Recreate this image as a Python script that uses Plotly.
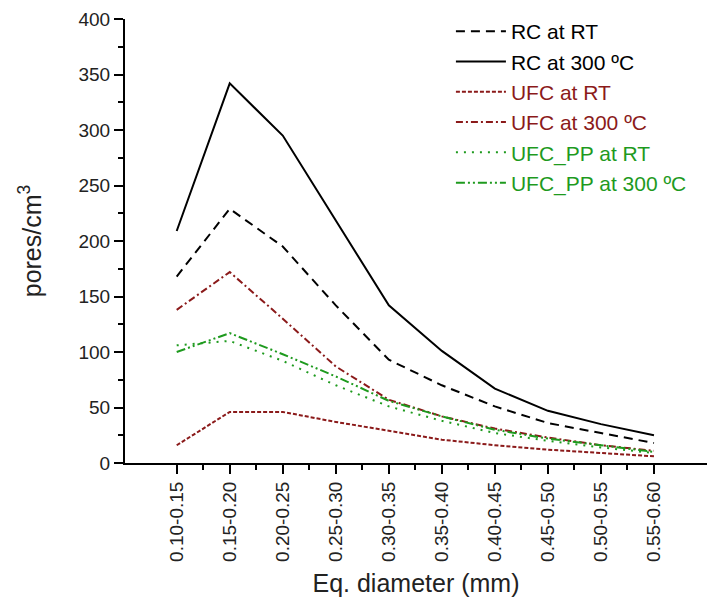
import plotly.graph_objects as go

categories = ["0.10-0.15", "0.15-0.20", "0.20-0.25", "0.25-0.30", "0.30-0.35",
              "0.35-0.40", "0.40-0.45", "0.45-0.50", "0.50-0.55", "0.55-0.60"]
rc_rt = [168, 229, 195, 142, 93, 70, 51, 36, 27, 18]
rc_300 = [209, 342, 295, 218, 142, 101, 67, 47, 35, 25]
ufc_rt = [16, 46, 46, 37, 29, 21, 16, 12, 9, 6]
ufc_300 = [138, 172, 130, 87, 57, 42, 31, 23, 16, 11]
ufcpp_rt = [106, 110, 92, 70, 51, 38, 27, 20, 14, 9]
ufcpp_300 = [100, 117, 98, 78, 56, 42, 30, 22, 16, 10]

BLACK = "#000000"
RED = "#8b1a1a"
GREEN = "#1e9a1e"

series = [
    ("RC at RT", rc_rt, BLACK, "9px,6px"),
    ("RC at 300 ºC", rc_300, BLACK, "solid"),
    ("UFC at RT", ufc_rt, RED, "4px,2px"),
    ("UFC at 300 ºC", ufc_300, RED, "7px,3px,2px,3px"),
    ("UFC_PP at RT", ufcpp_rt, GREEN, "2px,6px"),
    ("UFC_PP at 300 ºC", ufcpp_300, GREEN, "9px,3px,2px,3px,2px,3px"),
]

xs = list(range(len(categories)))
fig = go.Figure()
for name, vals, color, dash in series:
    fig.add_trace(go.Scatter(
        x=xs, y=vals, mode="lines",
        name=f"<span style='color:{color}'>{name}</span>",
        line=dict(color=color, width=2, dash=dash),
    ))

FONT = "Liberation Sans, Arial, sans-serif"
fig.update_layout(
    width=710, height=605,
    margin=dict(l=125, r=3, t=19, b=142),
    paper_bgcolor="white", plot_bgcolor="white",
    font=dict(family=FONT, size=19, color="#222"),
    showlegend=True,
    legend=dict(x=0.56, y=1.018, xanchor="left", yanchor="top",
                font=dict(size=21, family=FONT), bgcolor="rgba(0,0,0,0)",
                tracegroupgap=0, itemwidth=50),
    xaxis=dict(
        range=[-0.975, 10.0], tickmode="array", tickvals=xs, ticktext=categories,
        tickangle=-90, showgrid=False, zeroline=False,
        showline=True, linecolor="black", linewidth=2,
        ticks="outside", ticklen=9, tickwidth=2, tickcolor="black",
        tickfont=dict(size=19, color="#222"),
        minor=dict(tickvals=[i + 0.5 for i in range(len(categories) - 1)],
                   ticks="outside", ticklen=5, tickwidth=2, tickcolor="black"),
        title=dict(text="Eq. diameter (mm)", font=dict(size=25, color="#222"), standoff=14),
    ),
    yaxis=dict(
        range=[0, 400], tickmode="linear", tick0=0, dtick=50,
        showgrid=False, zeroline=False,
        showline=True, linecolor="black", linewidth=2,
        ticks="outside", ticklen=9, tickwidth=2, tickcolor="black",
        tickfont=dict(size=19, color="#222"),
        minor=dict(dtick=25, ticks="outside", ticklen=5, tickwidth=2, tickcolor="black"),
        title=dict(text="pores/cm<sup>3</sup>", font=dict(size=25, color="#222"), standoff=30),
    ),
)

fig.write_html("out.html")
